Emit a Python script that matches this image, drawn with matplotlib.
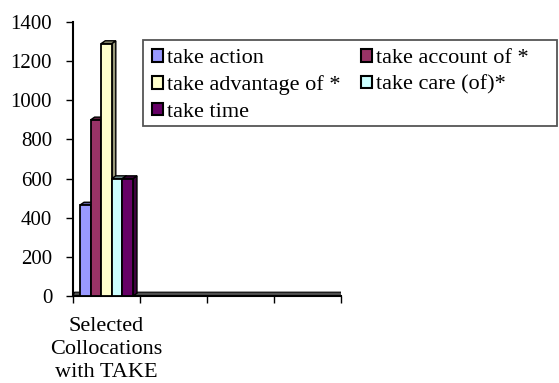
import matplotlib
matplotlib.use("Agg")
import matplotlib.pyplot as plt
from matplotlib.patches import Polygon, Patch, Rectangle

series = ["take action", "take account of *", "take advantage of *",
          "take care (of)*", "take time"]
values = [465, 900, 1290, 600, 600]
colors = ["#9999FF", "#993366", "#FFFFCC", "#CCFFFF", "#660066"]
side_colors = ["#5c5c99", "#5c1f3d", "#99997a", "#7a9999", "#3d003d"]
category = "Selected\nCollocations\nwith TAKE"
n_slots = 4
yticks = [0, 200, 400, 600, 800, 1000, 1200, 1400]

plt.rcParams["font.family"] = ["Liberation Serif", "DejaVu Serif"]

W, H = 559, 383
fig = plt.figure(figsize=(W / 100, H / 100), dpi=100)
ax = fig.add_axes([73 / W, 1 - 296 / H, (341 - 73) / W, (296 - 22) / H])

bw = 0.158
start = 0.105
dx, dy = 0.06, 14  # depth offset of the 3D faces

# floor slab along the category axis
floor = Polygon([(0, 0), (n_slots + dx, 0), (n_slots + dx * 1.3, dy * 0.7),
                 (n_slots + dx, dy * 1.4), (dx * 0.4, dy * 1.4)],
                closed=True, facecolor="#505050", edgecolor="black", lw=0.8, zorder=1)
ax.add_patch(floor)

for i, (v, c, sc) in enumerate(zip(values, colors, side_colors)):
    x0 = start + i * bw
    ax.bar(x0, v, width=bw, align="edge", color=c, edgecolor="black", lw=1.3, zorder=3)
    side = Polygon([(x0 + bw, 0), (x0 + bw + dx, dy), (x0 + bw + dx, v + dy), (x0 + bw, v)],
                   closed=True, facecolor=sc, edgecolor="black", lw=1.0, zorder=2)
    top = Polygon([(x0, v), (x0 + dx, v + dy), (x0 + bw + dx, v + dy), (x0 + bw, v)],
                  closed=True, facecolor=sc, edgecolor="black", lw=1.0, zorder=2)
    ax.add_patch(side)
    ax.add_patch(top)

ax.set_xlim(0, n_slots)
ax.set_ylim(0, 1400)
ax.set_yticks(yticks)
ax.set_yticklabels([str(t) for t in yticks], fontsize=15)
ax.set_xticks(range(n_slots + 1))
ax.set_xticklabels([])
ax.set_xticks([0.5], minor=True)
ax.set_xticklabels([category], minor=True, fontsize=16, linespacing=1.3)
ax.tick_params(axis="x", which="minor", length=0, pad=15)
ax.tick_params(axis="x", which="major", length=5, width=1, direction="out")
ax.tick_params(axis="y", length=5, width=1, direction="out", pad=10)

for s in ["top", "right"]:
    ax.spines[s].set_visible(False)
ax.spines["left"].set_linewidth(1.5)
ax.spines["bottom"].set_linewidth(1.5)
ax.patch.set_alpha(0)

# legend entries laid out row by row in two columns
order = [0, 2, 4, 1, 3]
handles = [Patch(facecolor=colors[k], edgecolor="black", lw=1.5) for k in order]
labels = [series[k] for k in order]
fig.add_artist(Rectangle((143 / W, 1 - 126 / H), (557 - 143) / W, (126 - 40) / H,
                         transform=fig.transFigure, facecolor="white",
                         edgecolor="#555555", lw=1.3, zorder=4))
leg = fig.legend(handles, labels, loc="upper left",
                 bbox_to_anchor=(143 / W, 1 - 40 / H), ncol=2,
                 fontsize=16, frameon=False,
                 handlelength=0.5, handleheight=0.5, handletextpad=0.2,
                 columnspacing=0.9, borderpad=0.4, labelspacing=0.33,
                 borderaxespad=0)
leg.set_zorder(5)

fig.savefig("out.png", dpi=100)
